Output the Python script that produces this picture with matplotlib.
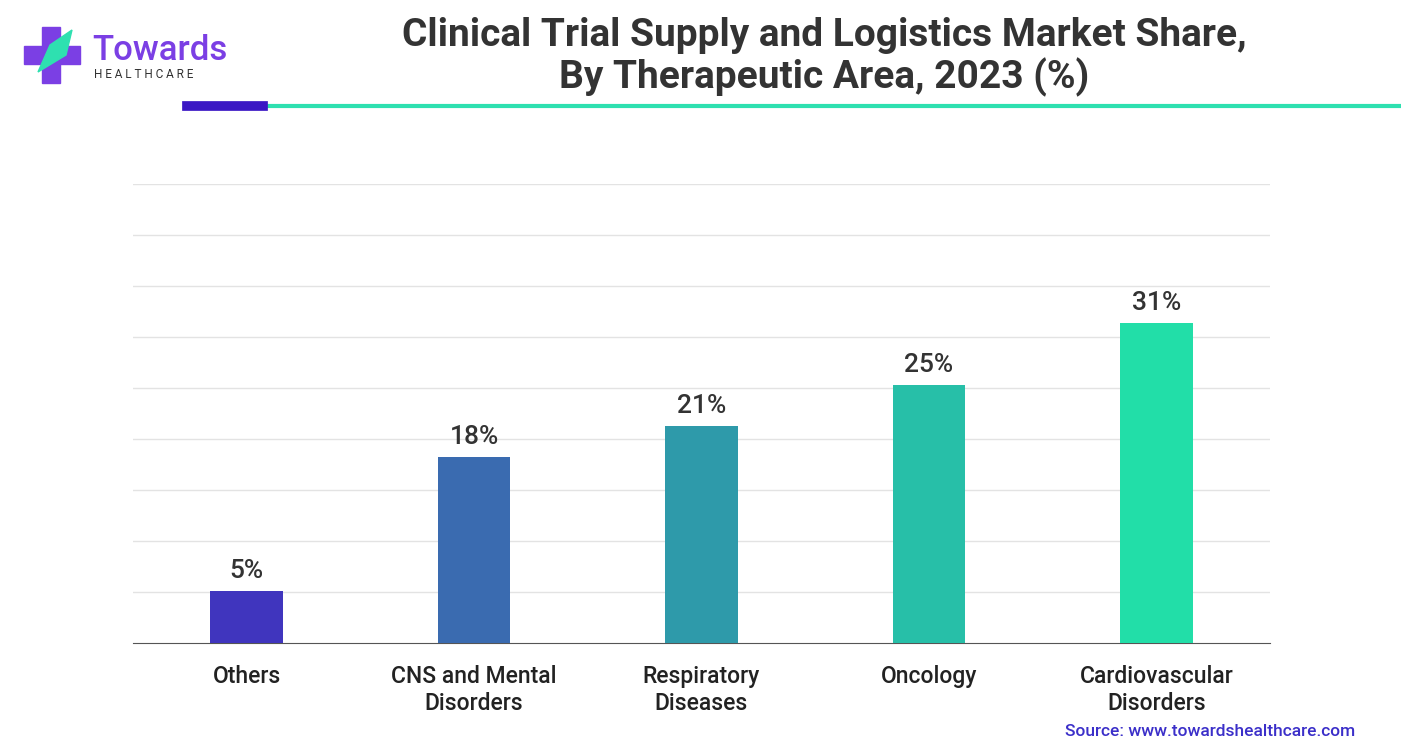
import matplotlib.pyplot as plt
from matplotlib.patches import Rectangle, Polygon

categories = ["Others", "CNS and Mental\nDisorders", "Respiratory\nDiseases", "Oncology", "Cardiovascular\nDisorders"]
shares = [5, 18, 21, 25, 31]
colors = ["#4035BE", "#3A6BB0", "#2E9AAA", "#27BFA8", "#22DEA8"]

W, H = 1401, 751
fig = plt.figure(figsize=(W / 100, H / 100), dpi=100)
plt.rcParams['font.family'] = ['Roboto', 'DejaVu Sans']

ax = fig.add_axes([133 / W, 1 - 643 / H, (1270 - 133) / W, (643 - 184) / H])
x = range(len(categories))
ax.bar(x, shares, width=0.32, color=colors, zorder=3)
for xi, v in zip(x, shares):
    ax.text(xi, v + 0.8, f"{v}%", ha="center", va="bottom", fontsize=19, color="#333333",
            fontweight="medium")
top = 31 * (643 - 184) / 320
ax.set_ylim(0, top)
ax.set_xlim(-0.5, 4.5)
for i in range(1, 10):
    ax.axhline(top * i / 9, color="#e3e3e3", lw=1, zorder=1)
ax.set_yticks([])
ax.set_xticks(list(x))
ax.set_xticklabels(categories, fontsize=16.5, color="#222222", linespacing=1.2, fontweight="medium")
ax.tick_params(axis="x", length=0, pad=16)
for s in ["top", "left", "right"]:
    ax.spines[s].set_visible(False)
ax.spines["bottom"].set_color("#555555")

fig.text(824 / W, 1 - 35 / H, "Clinical Trial Supply and Logistics Market Share,", ha="center",
         va="center", fontsize=28, fontweight="bold", color="#333333")
fig.text(824 / W, 1 - 77 / H, "By Therapeutic Area, 2023 (%)", ha="center",
         va="center", fontsize=28, fontweight="bold", color="#333333")

# header lines
lax = fig.add_axes([0, 0, 1, 1], facecolor="none")
lax.set_xlim(0, W)
lax.set_ylim(H, 0)
lax.axis("off")
lax.plot([263, W], [106, 106], color="#2ee0b0", lw=3)
lax.plot([187, 263], [106, 106], color="#3b17c4", lw=7)
# logo
lax.add_patch(Rectangle((42, 27), 18, 56, color="#7b3fe4"))
lax.add_patch(Rectangle((24, 46), 56, 18, color="#7b3fe4"))
lax.add_patch(Polygon([[38, 72], [50, 45], [72, 30], [66, 55]], color="#2ee0b0"))
lax.text(92, 50, "Towards", fontsize=25, color="#7b3fe4", va="center", fontweight="medium")
lax.text(94, 74, "H E A L T H C A R E", fontsize=8.5, color="#333333", va="center")
lax.text(1355, 731, "Source: www.towardshealthcare.com", ha="right", va="center",
         fontsize=12.5, color="#3b2fc9", fontweight="medium")

fig.savefig("out.png", dpi=100)
